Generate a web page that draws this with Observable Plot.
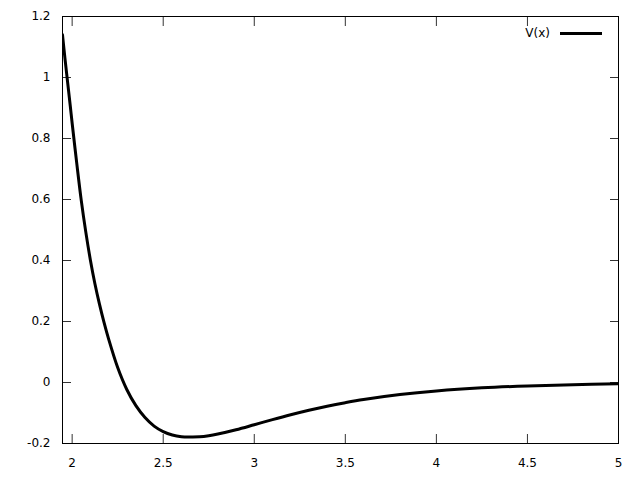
<!DOCTYPE html>
<html><head><meta charset="utf-8">
<script src="https://cdn.jsdelivr.net/npm/d3@7"></script>
<script src="https://cdn.jsdelivr.net/npm/@observablehq/plot@0.6"></script>
<style>
body{margin:0;background:#fff}
#wrap{position:relative;width:640px;height:480px;font-family:"DejaVu Sans";font-size:12px}
#legend{position:absolute;right:38px;top:26px;display:flex;align-items:center;gap:10px;color:#000}
#legend .swatch{width:42px;height:3px;background:#000}
</style>
</head><body><div id="wrap"><div id="legend"><span id="lname"></span><span class="swatch"></span></div></div>
<script>
const xs = [1.947, 1.96, 1.975, 1.99, 2.0, 2.025, 2.05, 2.075, 2.1, 2.125, 2.15, 2.175, 2.2, 2.25, 2.3, 2.35, 2.4, 2.45, 2.5, 2.55, 2.6, 2.65, 2.7, 2.75, 2.8, 2.9, 3.0, 3.1, 3.2, 3.3, 3.4, 3.5, 3.6, 3.8, 4.0, 4.25, 4.5, 4.75, 5.0];
const vs = [1.14, 1.065, 0.985, 0.905, 0.85, 0.72, 0.597, 0.493, 0.402, 0.324, 0.257, 0.197, 0.143, 0.049, -0.023, -0.076, -0.115, -0.143, -0.161, -0.172, -0.1775, -0.1785, -0.178, -0.1745, -0.169, -0.155, -0.1385, -0.1217, -0.1057, -0.0909, -0.0777, -0.0661, -0.0558, -0.0395, -0.0277, -0.0176, -0.0112, -0.0070, -0.0044];
const xTicks = [2, 2.5, 3, 3.5, 4, 4.5, 5];
const yTicks = [-0.2, 0, 0.2, 0.4, 0.6, 0.8, 1, 1.2];
const seriesName = "V(x)";

const data = xs.map((x, i) => ({x, v: vs[i]}));
const fmt = d => String(d);
const none = () => "";

const chart = Plot.plot({
  width: 640, height: 480,
  marginLeft: 62, marginRight: 22, marginTop: 16, marginBottom: 37,
  style: {fontFamily: "DejaVu Sans", fontSize: "12px", color: "#000", background: "#fff"},
  x: {domain: [1.947, 5]},
  y: {domain: [-0.2, 1.2]},
  marks: [
    Plot.axisX(xTicks, {anchor: "bottom", tickSize: 0, tickPadding: 15, label: null, tickFormat: fmt}),
    Plot.axisX(xTicks, {anchor: "bottom", tickSize: -9, label: null, tickFormat: none, stroke: "#333"}),
    Plot.axisX(xTicks, {anchor: "top", tickSize: -9, label: null, tickFormat: none, stroke: "#333"}),
    Plot.axisY(yTicks, {anchor: "left", tickSize: 0, tickPadding: 12, label: null, tickFormat: fmt}),
    Plot.axisY(yTicks, {anchor: "left", tickSize: -9, label: null, tickFormat: none, stroke: "#333"}),
    Plot.axisY(yTicks, {anchor: "right", tickSize: -9, label: null, tickFormat: none, stroke: "#333"}),
    Plot.line(data, {x: "x", y: "v", stroke: "#000", strokeWidth: 3, curve: "catmull-rom", clip: true}),
    Plot.frame({stroke: "#000", strokeWidth: 1})
  ]
});
document.getElementById("lname").textContent = seriesName;
document.getElementById("wrap").prepend(chart);
</script>
</body></html>
